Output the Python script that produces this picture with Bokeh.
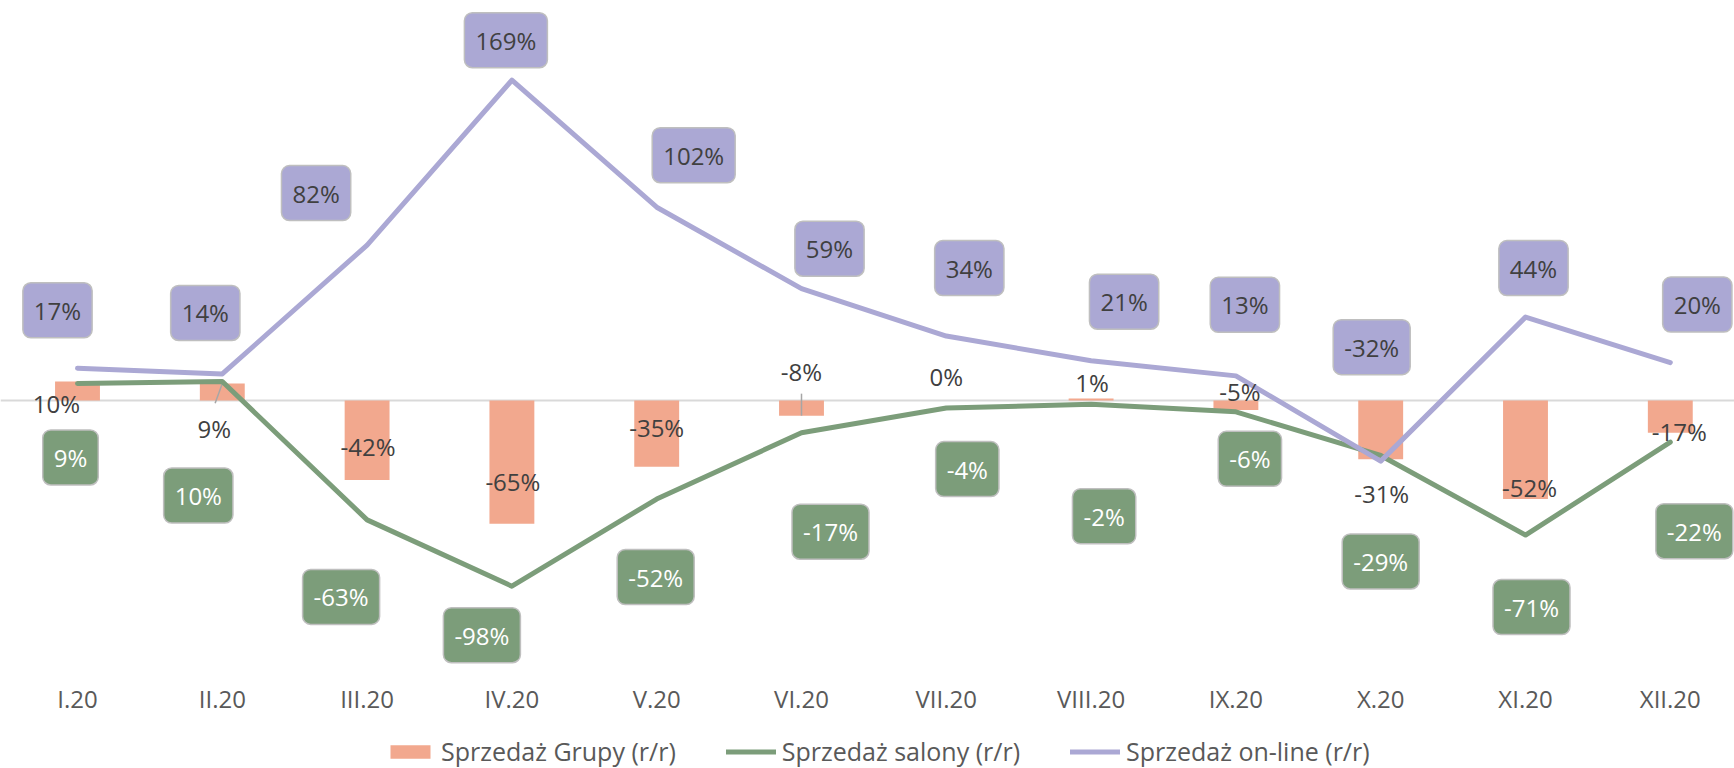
from bokeh.plotting import figure
from bokeh.models import ColumnDataSource, Span, FixedTicker, Legend, LegendItem, Range1d
from bokeh.embed import file_html
from bokeh.resources import INLINE
from bokeh.core.properties import value

# ---------------- data ----------------
categories = ["I.20", "II.20", "III.20", "IV.20", "V.20", "VI.20",
              "VII.20", "VIII.20", "IX.20", "X.20", "XI.20", "XII.20"]
grupy = [10, 9, -42, -65, -35, -8, 0, 1, -5, -31, -52, -17]
salony = [9, 10, -63, -98, -52, -17, -4, -2, -6, -29, -71, -22]
online = [17, 14, 82, 169, 102, 59, 34, 21, 13, -32, 44, 20]
series_names = ["Sprzedaż Grupy (r/r)", "Sprzedaż salony (r/r)", "Sprzedaż on-line (r/r)"]

# ---------------- label placement (screen px offsets, +dy = down) ----------------
online_dx = [-20, -17, -51, -6, 37, 28, 23, 33, 9, -9, 8, 27]
online_dy = [-58, -61, -52, -40, -52, -40, -68, -59, -71, -114, -49, -58]
salony_dx = [-7, -24, -26, -30, -1, 29, 21, 13, 14, 0, 6, 24]
salony_dy = [74, 114, 77, 49, 78, 99, 61, 112, 47, 106, 72, 89]
grupy_dx = [-21, -8, 1, 1, 0, 0, 0, 1, 4, 1, 4, 9]
grupy_dy = [22, 45, -34, -42, -39, -44, -24, -16, -18, 34, -12, -1]
leader_idx = [1, 5]
leader_len = [21, 22]
leader_angle = [-110, 90]

# ---------------- styles ----------------
SALMON = "#F2A88E"
GREEN = "#7C9D7A"
PURPLE = "#ABA8D4"
BOX_BORDER = "#BFBFBF"
TXT = "#404040"
AXIS_TXT = "#595959"
FONT = "Open Sans"

FIG_W, FIG_H = 1734, 768
PX_PER_CAT = 144.8
PX_PER_PCT = 1.895
ZERO_Y = 400
FIRST_X = 77
x_start = -FIRST_X / PX_PER_CAT
x_end = x_start + FIG_W / PX_PER_CAT
y_end = ZERO_Y / PX_PER_PCT
y_start = y_end - FIG_H / PX_PER_PCT
axis_loc = (ZERO_Y - 675) / PX_PER_PCT

idx = list(range(len(categories)))
src = ColumnDataSource(dict(
    x=idx, grupy=grupy, salony=salony, online=online,
    grupy_txt=[f"{v}%" for v in grupy],
    salony_txt=[f"{v}%" for v in salony],
    online_txt=[f"{v}%" for v in online],
    g_dx=grupy_dx, g_dy=grupy_dy,
    s_dx=salony_dx, s_dy=salony_dy,
    o_dx=online_dx, o_dy=online_dy,
))

p = figure(width=FIG_W, height=FIG_H,
           x_range=Range1d(x_start, x_end), y_range=Range1d(y_start, y_end),
           output_backend="svg", toolbar_location=None, min_border=0,
           y_axis_location=None)
p.outline_line_color = None
p.xgrid.visible = False
p.ygrid.visible = False
p.background_fill_color = "white"
p.border_fill_color = "white"

ax = p.xaxis[0]
ax.fixed_location = axis_loc
ax.ticker = FixedTicker(ticks=idx)
ax.major_label_overrides = {i: c for i, c in zip(idx, categories)}
ax.axis_line_color = None
ax.major_tick_line_color = None
ax.minor_tick_line_color = None
ax.major_tick_out = 0
ax.major_tick_in = 0
ax.minor_tick_out = 0
ax.major_label_text_font = FONT
ax.major_label_text_font_size = "24px"
ax.major_label_text_color = AXIS_TXT
ax.major_label_standoff = 6

p.add_layout(Span(location=0, dimension="width", line_color="#D9D9D9",
                  line_width=2, level="underlay"))

bars = p.vbar(x="x", top="grupy", bottom=0, width=0.31, fill_color=SALMON,
              line_color=None, source=src)

p.ray(x=[idx[i] for i in leader_idx], y=[grupy[i] for i in leader_idx],
      length=leader_len, length_units="screen", angle=leader_angle,
      angle_units="deg", line_color="#A6A6A6", line_width=1.5)

l_sal = p.line("x", "salony", line_width=5, line_color=GREEN,
               line_join="round", line_cap="round", source=src)
l_onl = p.line("x", "online", line_width=5, line_color=PURPLE,
               line_join="round", line_cap="round", source=src)

p.text(x="x", y="grupy", text="grupy_txt", x_offset="g_dx", y_offset="g_dy",
       text_align="center", text_baseline="middle", text_font=value(FONT),
       text_font_size="24px", text_color=TXT, source=src)

p.text(x="x", y="salony", text="salony_txt", x_offset="s_dx", y_offset="s_dy",
       text_align="center", text_baseline="middle", text_font=value(FONT),
       text_font_size="24px", text_color="white",
       background_fill_color=GREEN, border_line_color=BOX_BORDER,
       border_line_width=1.5, padding=11, border_radius=8, source=src)

p.text(x="x", y="online", text="online_txt", x_offset="o_dx", y_offset="o_dy",
       text_align="center", text_baseline="middle", text_font=value(FONT),
       text_font_size="24px", text_color=TXT,
       background_fill_color=PURPLE, border_line_color=BOX_BORDER,
       border_line_width=1.5, padding=11, border_radius=8, source=src)

legend = Legend(items=[LegendItem(label=series_names[0], renderers=[bars]),
                       LegendItem(label=series_names[1], renderers=[l_sal]),
                       LegendItem(label=series_names[2], renderers=[l_onl])],
                orientation="horizontal", location=(385, 0), spacing=50,
                glyph_width=50, glyph_height=17, label_standoff=6,
                label_text_font=FONT, label_text_font_size="25px",
                label_text_color=AXIS_TXT, border_line_color=None,
                background_fill_alpha=0, margin=0, padding=0)
p.add_layout(legend, "center")

open("out.html", "w").write(file_html(p, INLINE))
